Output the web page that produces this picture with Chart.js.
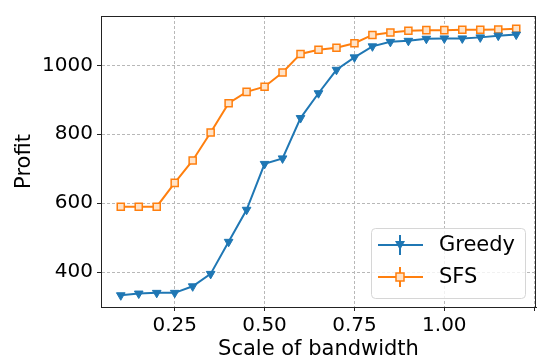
<!DOCTYPE html>
<html>
<head>
<meta charset="utf-8">
<script src="https://cdn.jsdelivr.net/npm/chart.js@4/dist/chart.umd.min.js"></script>
<style>
  html, body { margin: 0; padding: 0; background: #fff; }
  #wrap { width: 545px; height: 362px; }
</style>
</head>
<body>
<div id="wrap"><canvas id="chart"></canvas></div>
<script>
// bandwidth scale (x) and profit per method
const scales = [0.10, 0.15, 0.20, 0.25, 0.30, 0.35, 0.40, 0.45, 0.50, 0.55, 0.60, 0.65,
  0.70, 0.75, 0.80, 0.85, 0.90, 0.95, 1.00, 1.05, 1.10, 1.15, 1.20];
const greedy = [333, 338, 340, 340, 359, 395, 488, 581, 714, 730, 847, 919,
  987, 1023, 1055, 1068, 1071, 1077, 1078, 1078, 1081, 1086, 1089];
const sfs = [590, 590, 590, 659, 724, 805, 890, 923, 938, 979, 1033, 1045,
  1051, 1064, 1088, 1095, 1100, 1102, 1102, 1103, 1103, 1104, 1106];
const xTicks = [0.25, 0.5, 0.75, 1.0, 1.25];
const yTicks = [400, 600, 800, 1000];

const BLUE = '#1f77b4';
const ORANGE = '#ff7f0e';
const FONT = 'DejaVu Sans';

const toPoints = vals => vals.map((v, i) => ({ x: scales[i], y: v }));

// box around the plot + matplotlib-like legend in the lower right
const framePlugin = {
  id: 'frame',
  afterDraw(chart) {
    const { ctx, chartArea: a } = chart;
    ctx.save();
    ctx.strokeStyle = '#222';
    ctx.lineWidth = 1;
    ctx.strokeRect(a.left + 0.5, a.top + 0.5, a.right - a.left - 1, a.bottom - a.top);

    const w = 154, h = 70;
    const x0 = a.right - 11 - w, y0 = a.bottom - 9 - h;
    ctx.beginPath();
    ctx.roundRect(x0 + 0.5, y0 + 0.5, w, h, 4);
    ctx.fillStyle = 'rgba(255,255,255,0.8)';
    ctx.fill();
    ctx.strokeStyle = '#d6d6d6';
    ctx.stroke();

    const rows = [
      { label: 'Greedy', color: BLUE, marker: 'tri' },
      { label: 'SFS', color: ORANGE, marker: 'sq' }
    ];
    rows.forEach((r, i) => {
      const y = y0 + 17 + i * 32;
      const lx = x0 + 7, cx = x0 + 29;
      ctx.strokeStyle = r.color;
      ctx.lineWidth = 2;
      ctx.beginPath();
      ctx.moveTo(lx, y); ctx.lineTo(lx + 45, y);
      ctx.moveTo(cx, y - 10); ctx.lineTo(cx, y + 10);
      ctx.stroke();
      if (r.marker === 'tri') {
        ctx.fillStyle = r.color;
        ctx.beginPath();
        ctx.moveTo(cx - 5, y - 4); ctx.lineTo(cx + 5, y - 4); ctx.lineTo(cx, y + 5);
        ctx.closePath();
        ctx.fill();
      } else {
        ctx.fillStyle = '#ffe3c8';
        ctx.lineWidth = 1.5;
        ctx.fillRect(cx - 4, y - 4, 8, 8);
        ctx.strokeRect(cx - 4, y - 4, 8, 8);
      }
      ctx.fillStyle = '#000';
      ctx.font = '21px "' + FONT + '"';
      ctx.textBaseline = 'middle';
      ctx.textAlign = 'left';
      ctx.fillText(r.label, x0 + 68, y + 1);
    });
    ctx.restore();
  }
};

new Chart(document.getElementById('chart'), {
  type: 'line',
  data: {
    datasets: [
      {
        label: 'Greedy',
        data: toPoints(greedy),
        borderColor: BLUE,
        backgroundColor: BLUE,
        borderWidth: 2,
        pointStyle: 'triangle',
        rotation: 180,
        pointRadius: 5,
        pointBorderWidth: 1,
        tension: 0
      },
      {
        label: 'SFS',
        data: toPoints(sfs),
        borderColor: ORANGE,
        backgroundColor: '#ffe3c8',
        borderWidth: 2,
        pointStyle: 'rect',
        pointRadius: 5,
        pointBorderWidth: 1.5,
        tension: 0
      }
    ]
  },
  options: {
    responsive: true,
    maintainAspectRatio: false,
    animation: false,
    layout: { padding: { top: 12, right: 9, left: 0, bottom: 0 } },
    plugins: {
      legend: { display: false },
      tooltip: { enabled: false }
    },
    scales: {
      x: {
        type: 'linear',
        min: 0.045,
        max: 1.255,
        afterBuildTicks: axis => { axis.ticks = xTicks.map(v => ({ value: v })); },
        afterFit: axis => { axis.height = 55; },
        ticks: {
          color: '#000',
          font: { family: FONT, size: 20 },
          padding: 3,
          maxRotation: 0,
          callback: v => (v > 1.2 ? '' : v.toFixed(2))
        },
        grid: { color: '#b8b8b8', lineWidth: 1, tickLength: 4, tickColor: '#222' },
        border: { color: '#222', dash: [3, 2] },
        title: {
          display: true,
          text: 'Scale of bandwidth',
          color: '#000',
          font: { family: FONT, size: 21 },
          padding: { top: 0, bottom: 0 }
        }
      },
      y: {
        min: 299,
        max: 1143,
        afterBuildTicks: axis => { axis.ticks = yTicks.map(v => ({ value: v })); },
        afterFit: axis => { axis.width = 101; },
        ticks: {
          color: '#000',
          font: { family: FONT, size: 20 },
          padding: 4,
          callback: v => String(v)
        },
        grid: { color: '#b8b8b8', lineWidth: 1, tickLength: 4, tickColor: '#222' },
        border: { color: '#222', dash: [3, 2] },
        title: {
          display: true,
          text: 'Profit',
          color: '#000',
          font: { family: FONT, size: 21 },
          padding: { top: 12, bottom: 0 }
        }
      }
    }
  },
  plugins: [framePlugin]
});
</script>
</body>
</html>
